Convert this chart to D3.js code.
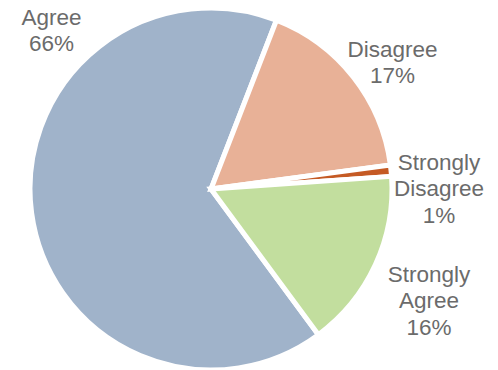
<!DOCTYPE html>
<html><head><meta charset="utf-8">
<script src="https://cdn.jsdelivr.net/npm/d3@7"></script>
<style>html,body{margin:0;padding:0;background:#fff;}</style>
</head><body>
<svg id="chart" width="498" height="370"></svg>
<script>
const categories = ["Agree", "Disagree", "Strongly Disagree", "Strongly Agree"];
const values = [66, 17, 1, 16];
const labelLines = [["Agree","66%"],["Disagree","17%"],["Strongly","Disagree","1%"],["Strongly","Agree","16%"]];
const colors = ["#A0B3CA", "#E8B197", "#C55A24", "#C2DE9E"];

const svg = d3.select("#chart");
const cx = 211, cy = 189, r = 181;
const start = 143.6 * Math.PI / 180;
const pie = d3.pie().sort(null).value(d => d).startAngle(start).endAngle(start + 2 * Math.PI);
const arcs = pie(values);
const arc = d3.arc().innerRadius(0).outerRadius(r);
const g = svg.append("g").attr("transform", `translate(${cx},${cy})`);
g.selectAll("path").data(arcs).join("path")
  .attr("d", arc)
  .attr("fill", (d, i) => colors[i])
  .attr("stroke", "#fff")
  .attr("stroke-width", 5)
  .attr("stroke-linejoin", "miter");

// label layout (centre x, first baseline y)
const labelPos = [[51.5, 25], [392.5, 57], [439, 170], [429, 282]];
const lineH = 26.3;
labelLines.forEach((lines, i) => {
  const t = svg.append("text")
    .attr("text-anchor", "middle")
    .attr("font-family", "'Liberation Sans', Arial, sans-serif")
    .attr("font-size", 22.5)
    .attr("fill", "#6b6b6b");
  lines.forEach((s, j) => {
    t.append("tspan").attr("x", labelPos[i][0]).attr("y", labelPos[i][1] + j * lineH).text(s);
  });
});
</script>
</body></html>
